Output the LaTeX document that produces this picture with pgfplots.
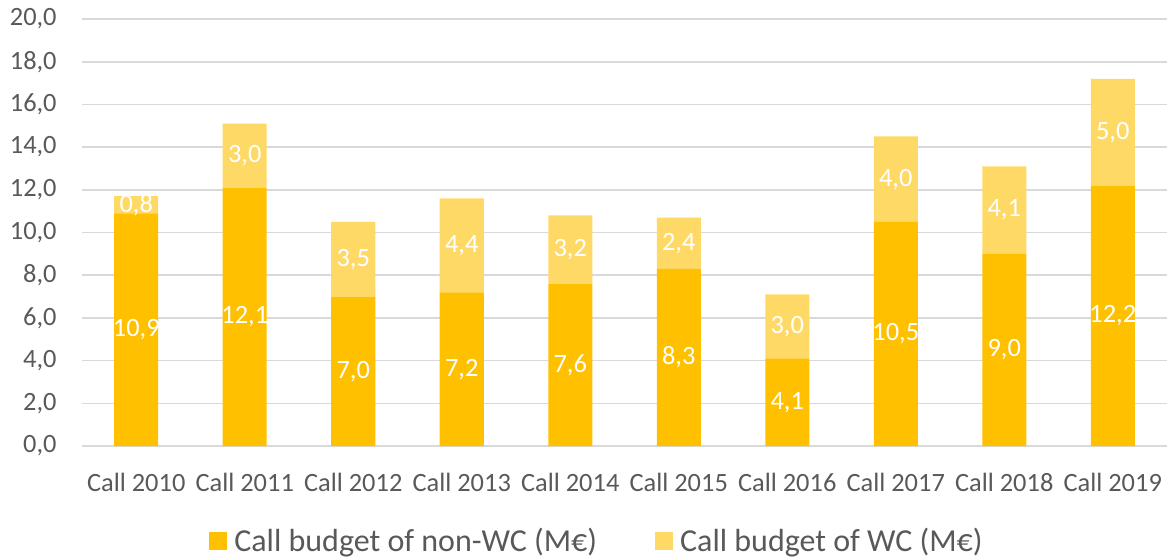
\documentclass[border=0pt]{standalone}
\usepackage{fontspec}
\setmainfont{Carlito}
\usepackage{pgfplots}
\pgfplotsset{compat=1.18}
\definecolor{nonwc}{HTML}{FFC000}
\definecolor{wc}{HTML}{FFD966}
\definecolor{txt}{HTML}{595959}
\definecolor{grd}{HTML}{D9D9D9}
\newcommand{\lblfmt}[1]{\pgfmathprintnumber[fixed,fixed zerofill,precision=1,use comma,assume math mode=true]{#1}}

\begin{document}
\begin{tikzpicture}
\pgfplotsset{
  common/.style={
    scale only axis, width=542.5pt, height=213.5pt,
    at={(0,0)}, anchor=south west,
    xmin=-0.5, xmax=9.5, ymin=0, ymax=20,
  },
}
\begin{axis}[
  common,
  ybar stacked, bar width=22pt,
  xtick={0,...,9},
  xticklabels={Call 2010,Call 2011,Call 2012,Call 2013,Call 2014,Call 2015,Call 2016,Call 2017,Call 2018,Call 2019},
  ytick={0,2,...,20},
  ymajorgrids, grid style={grd, line width=0.8pt},
  axis line style={draw=none},
  major tick length=0pt,
  tick label style={font=\fontsize{13.2}{16}\selectfont, text=txt},
  yticklabel style={anchor=east, inner sep=0pt, xshift=-12.5pt,
    /pgf/number format/fixed, /pgf/number format/fixed zerofill,
    /pgf/number format/precision=1, /pgf/number format/use comma,
    /pgf/number format/assume math mode=true},
  xticklabel style={anchor=center, inner sep=0pt, yshift=-18pt},
  legend style={draw=none, fill=none, legend columns=2, at={(0.4756,-0.2225)}, anchor=center,
    font=\fontsize{16}{19}\selectfont, text=txt, cells={anchor=west},
    /tikz/every even column/.append style={column sep=27pt}},
  legend image code/.code={\fill[#1] (0pt,-4.5pt) rectangle (9pt,4.5pt); \path (0pt,0pt) -- (10.5pt,0pt);},
]
\addplot[fill=nonwc, draw=none] coordinates {
  (0,10.9) (1,12.1) (2,7.0) (3,7.2) (4,7.6) (5,8.3) (6,4.1) (7,10.5) (8,9.0) (9,12.2)};
\addlegendentry{Call budget of non-WC (M€)}
\addplot[fill=wc, draw=none] coordinates {
  (0,0.8) (1,3.0) (2,3.5) (3,4.4) (4,3.2) (5,2.4) (6,3.0) (7,4.0) (8,4.1) (9,5.0)};
\addlegendentry{Call budget of WC (M€)}
\end{axis}
% data labels, centred in each segment
\begin{axis}[
  common, hide axis,
  point meta=explicit,
  nodes near coords={\lblfmt{\pgfplotspointmeta}},
  every node near coord/.append style={anchor=center, text=white, font=\fontsize{13.2}{16}\selectfont},
]
\addplot[nonwc, only marks, mark=*, mark size=0pt] coordinates {
  (0,5.45) [10.9] (1,6.05) [12.1] (2,3.5) [7.0] (3,3.6) [7.2] (4,3.8) [7.6]
  (5,4.15) [8.3] (6,2.05) [4.1] (7,5.25) [10.5] (8,4.5) [9.0] (9,6.1) [12.2]};
\addplot[wc, only marks, mark=*, mark size=0pt] coordinates {
  (0,11.3) [0.8] (1,13.6) [3.0] (2,8.75) [3.5] (3,9.4) [4.4] (4,9.2) [3.2]
  (5,9.5) [2.4] (6,5.6) [3.0] (7,12.5) [4.0] (8,11.05) [4.1] (9,14.7) [5.0]};
\end{axis}
\pgfresetboundingbox
\path (-41pt,-56pt) rectangle (542.5pt,223pt);
\end{tikzpicture}
\end{document}
